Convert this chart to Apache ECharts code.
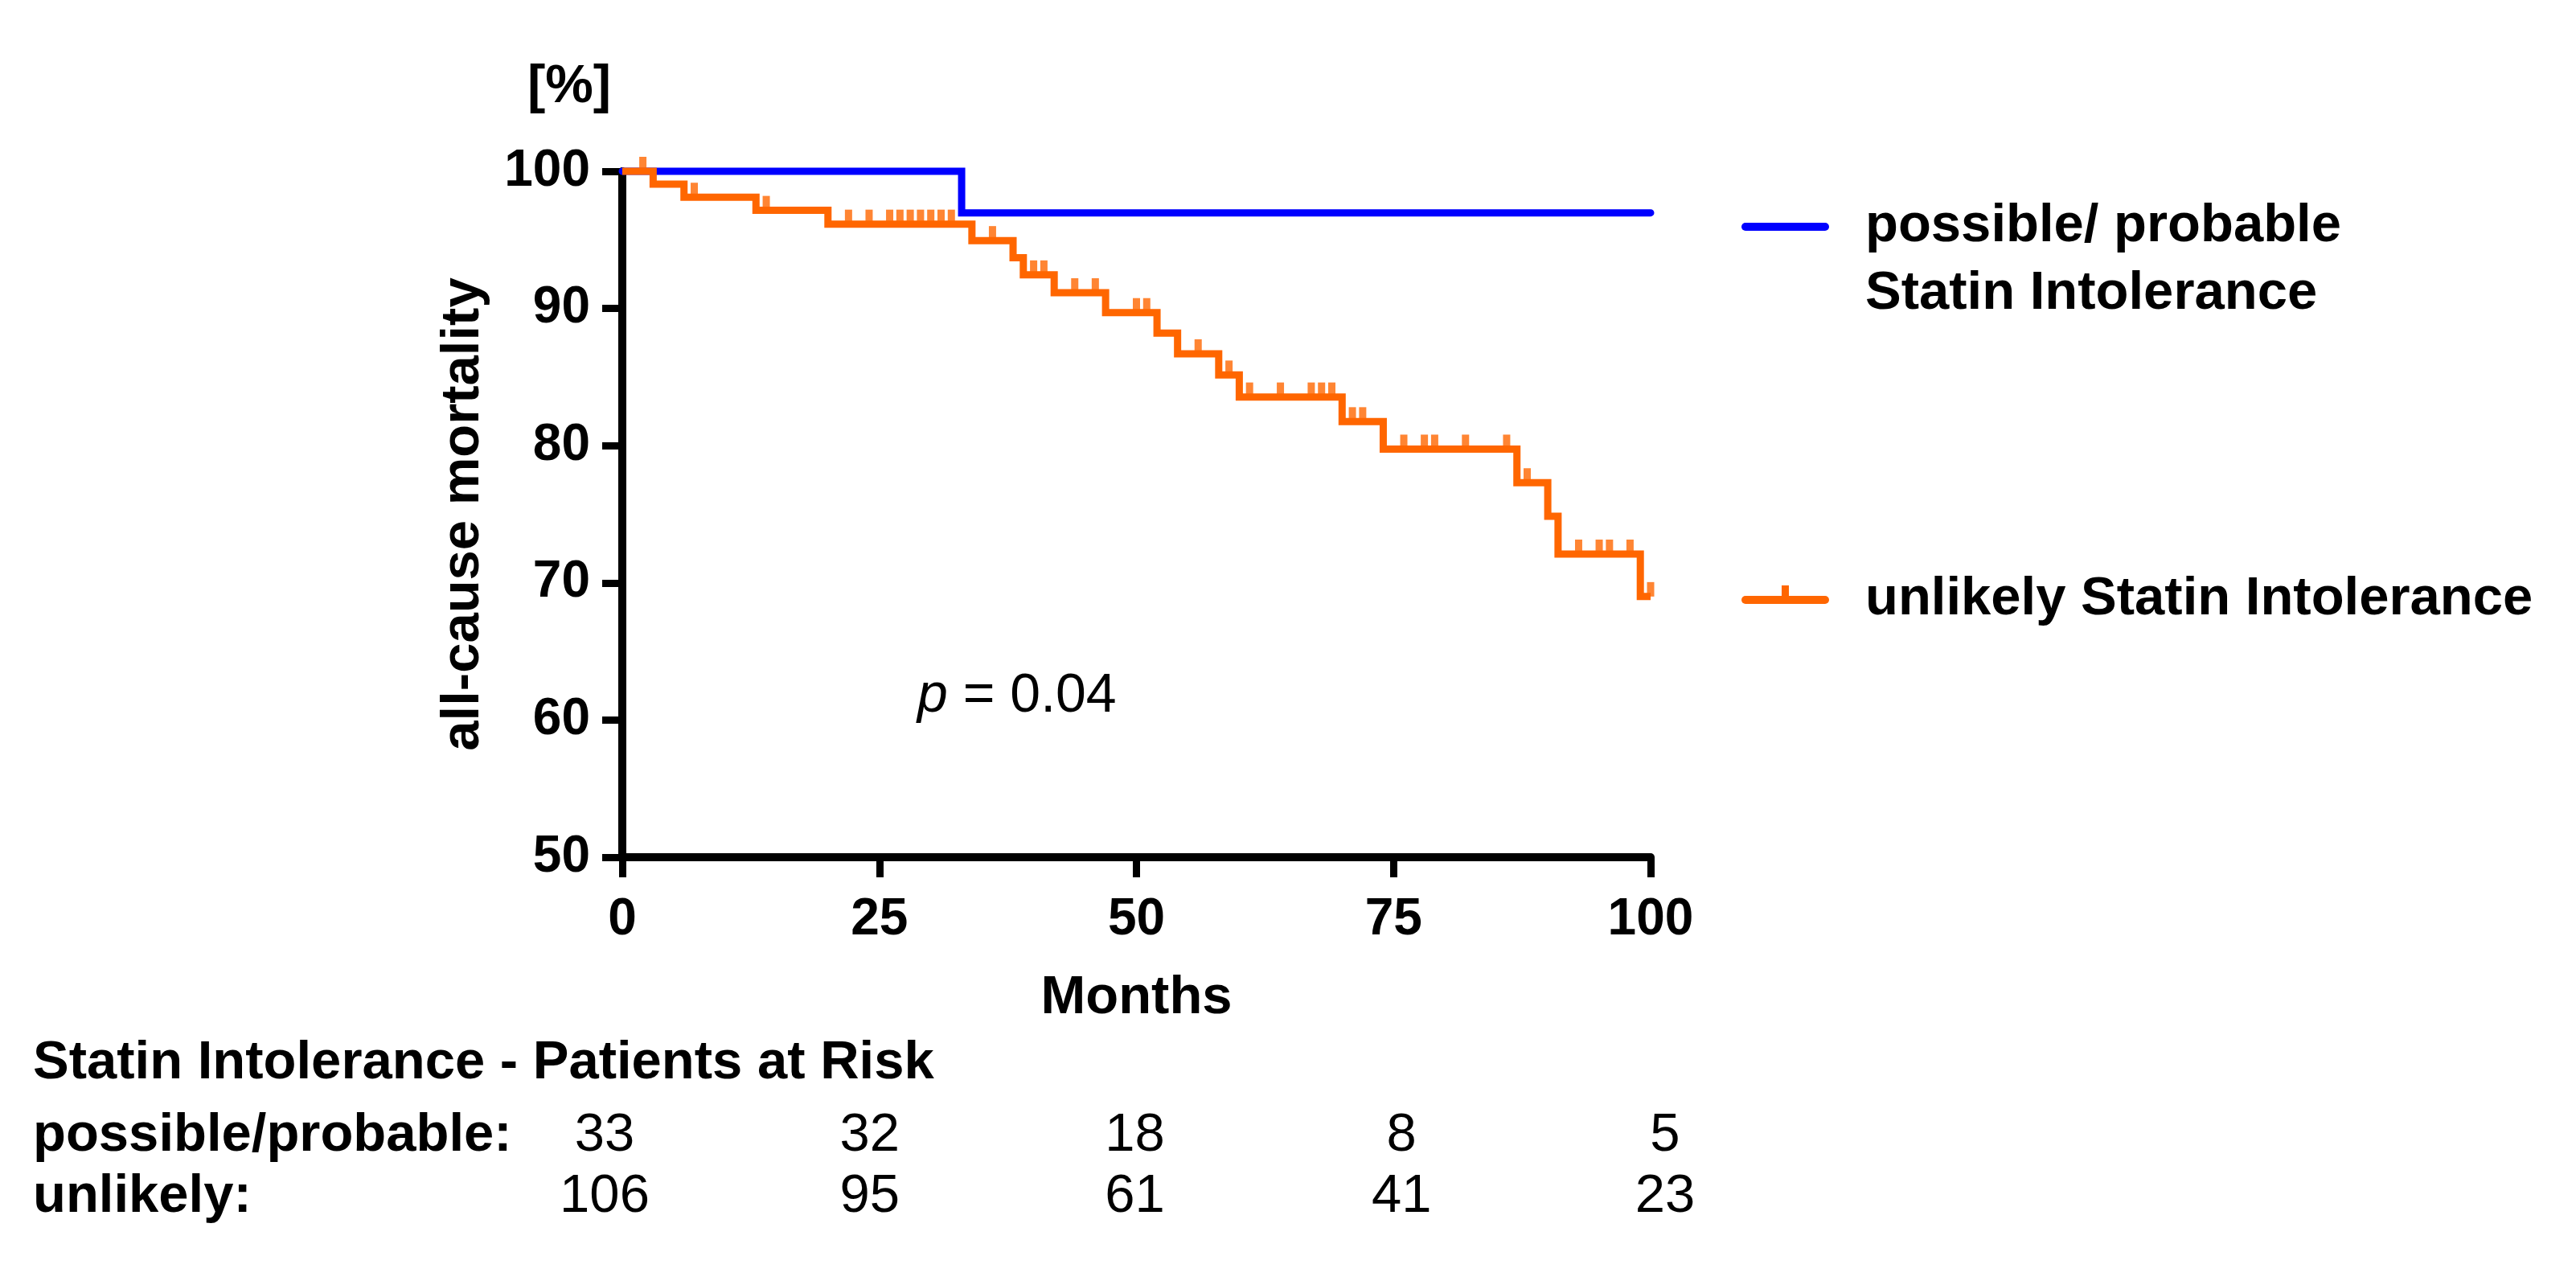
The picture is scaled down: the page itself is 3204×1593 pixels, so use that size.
<!DOCTYPE html>
<html><head><meta charset="utf-8">
<script src="https://cdn.jsdelivr.net/npm/echarts@6/dist/echarts.min.js"></script>
<style>html,body{margin:0;padding:0;background:#fff}#c{width:3204px;height:1593px}</style>
</head><body><div id="c"></div>
<script>
const FONT = '"Liberation Sans", Arial, sans-serif';
const BLUE = '#0000FF';
const ORANGE = '#FF6600';

// axis ticks
const xTicks = [0, 25, 50, 75, 100];
const yTicks = [50, 60, 70, 80, 90, 100];

// series names (legend)
const seriesNames = ['possible/ probable\nStatin Intolerance', 'unlikely Statin Intolerance'];

// possible/probable statin intolerance: step times (months) and survival (%)
const probTimes = [0, 33, 100];
const probSurv  = [100, 96.97, 96.97];

// unlikely statin intolerance: step times (months) and survival (%)
const unlTimes = [0, 3, 6, 13, 20, 34, 38, 39, 42, 47, 52, 54, 58, 60, 70, 74, 87, 90, 91, 99, 100];
const unlSurv  = [100, 99.06, 98.11, 97.15, 96.15, 94.95, 93.7, 92.45, 91.15, 89.7, 88.2, 86.7, 85.15, 83.55, 81.75, 79.75, 77.3, 74.85, 72.1, 69.0, 69.0];
// censored observations (months)
const unlCensor = [2, 7, 14, 22, 24, 26, 27, 28, 29, 30, 31, 32, 36, 40, 41, 44, 46, 50, 51, 56, 59, 61, 64, 67, 68, 69, 71, 72, 76, 78, 79, 82, 86, 88, 93, 95, 96, 98, 100];

// patients at risk table
const riskTitle = 'Statin Intolerance - Patients at Risk';
const riskRowLabels = ['possible/probable:', 'unlikely:'];
const riskProb = [33, 32, 18, 8, 5];
const riskUnl  = [106, 95, 61, 41, 23];

const pLabel = 'p';
const pValueText = ' = 0.04';
const yUnit = '[%]';
const yName = 'all-cause mortality';
const xName = 'Months';

function stepValue(times, surv, t) {
  let v = surv[0];
  for (let i = 0; i < times.length; i++) { if (times[i] <= t) v = surv[i]; }
  return v;
}

const chart = echarts.init(document.getElementById('c'));
const probData = probTimes.map((t, i) => [t, probSurv[i]]);
const unlData = unlTimes.map((t, i) => [t, unlSurv[i]]);
const censorData = unlCensor.map(t => [t, stepValue(unlTimes, unlSurv, t)]);

const axisStyle = { color: '#000', width: 10 };
const tickStyle = { color: '#000', width: 9 };
const labelStyle = { fontSize: 64, fontWeight: 'bold', color: '#000', fontFamily: FONT };

chart.setOption({
  backgroundColor: '#fff',
  animation: false,
  grid: { left: 774, top: 213, width: 1279, height: 853, containLabel: false },
  xAxis: {
    type: 'value', min: xTicks[0], max: xTicks[xTicks.length - 1], interval: 25,
    axisLine: { show: true, onZero: false, lineStyle: axisStyle },
    axisTick: { show: true, length: 25, lineStyle: tickStyle },
    axisLabel: Object.assign({ margin: 46 }, labelStyle),
    splitLine: { show: false },
    name: xName, nameLocation: 'middle', nameGap: 142,
    nameTextStyle: { fontSize: 67, fontWeight: 'bold', color: '#000', fontFamily: FONT }
  },
  yAxis: {
    type: 'value', min: yTicks[0], max: yTicks[yTicks.length - 1], interval: 10,
    axisLine: { show: true, onZero: false, lineStyle: axisStyle },
    axisTick: { show: true, length: 25, lineStyle: tickStyle },
    axisLabel: Object.assign({ margin: 40 }, labelStyle),
    splitLine: { show: false },
    name: yName, nameLocation: 'middle', nameGap: 164, nameRotate: 90,
    nameTextStyle: { fontSize: 67, fontWeight: 'bold', color: '#000', fontFamily: FONT }
  },
  series: [
    { name: seriesNames[0], type: 'line', step: 'end', data: probData, showSymbol: false, clip: false,
      lineStyle: { color: BLUE, width: 9, cap: 'round', join: 'miter' }, itemStyle: { color: BLUE }, z: 2 },
    { name: seriesNames[1], type: 'line', step: 'end', data: unlData, showSymbol: false, clip: false,
      lineStyle: { color: ORANGE, width: 9, cap: 'butt', join: 'miter' }, itemStyle: { color: ORANGE }, z: 3 },
    { name: seriesNames[1] + ' (censored)', type: 'scatter', data: censorData, clip: false,
      symbol: 'rect', symbolSize: [9, 18], symbolOffset: [0, -9],
      itemStyle: { color: ORANGE }, z: 4 }
  ]
});

function px(x, y) { return chart.convertToPixel({ gridIndex: 0 }, [x, y]); }

const g = [];
const textFont = (size, weight) => ({ fontSize: size, fontWeight: weight, fontFamily: FONT, fill: '#000' });

// unit label above y axis
g.push({ type: 'text', x: 708, y: 109, style: Object.assign({ text: yUnit, align: 'center', verticalAlign: 'middle' }, textFont(67, 'bold')) });

// legend
const legX0 = 2171, legX1 = 2270, legTextX = 2320;
const legY = [282, 746];
g.push({ type: 'line', shape: { x1: legX0, y1: legY[0], x2: legX1, y2: legY[0] }, style: { stroke: BLUE, lineWidth: 10, lineCap: 'round' } });
g.push({ type: 'line', shape: { x1: legX0, y1: legY[1], x2: legX1, y2: legY[1] }, style: { stroke: ORANGE, lineWidth: 10, lineCap: 'round' } });
g.push({ type: 'line', shape: { x1: (legX0 + legX1) / 2, y1: legY[1], x2: (legX0 + legX1) / 2, y2: legY[1] - 18 }, style: { stroke: ORANGE, lineWidth: 9 } });
const leg0Lines = seriesNames[0].split('\n');
leg0Lines.forEach((s, i) => g.push({ type: 'text', x: legTextX, y: legY[0] + i * 84, style: Object.assign({ text: s, align: 'left', verticalAlign: 'middle' }, textFont(67, 'bold')) }));
g.push({ type: 'text', x: legTextX, y: legY[1], style: Object.assign({ text: seriesNames[1], align: 'left', verticalAlign: 'middle' }, textFont(67, 'bold')) });

// p-value
g.push({ type: 'text', x: 1141, y: 866, style: {
  text: '{i|' + pLabel + '}{r|' + pValueText + '}', align: 'left', verticalAlign: 'middle',
  rich: { i: { fontSize: 68, fontStyle: 'italic', fontFamily: FONT, fill: '#000' }, r: { fontSize: 68, fontFamily: FONT, fill: '#000' } }
} });

// patients at risk table
g.push({ type: 'text', x: 41, y: 1323, style: Object.assign({ text: riskTitle, align: 'left', verticalAlign: 'middle' }, textFont(67, 'bold')) });
const rowY = [1413, 1489];
riskRowLabels.forEach((s, i) => g.push({ type: 'text', x: 41, y: rowY[i], style: Object.assign({ text: s, align: 'left', verticalAlign: 'middle' }, textFont(67, 'bold')) }));
const colShift = [-22, -12, -2, 10, 18];
[riskProb, riskUnl].forEach((row, r) => {
  row.forEach((v, c) => {
    const x = px(xTicks[c], yTicks[0])[0] + colShift[c];
    g.push({ type: 'text', x: x, y: rowY[r], style: Object.assign({ text: String(v), align: 'center', verticalAlign: 'middle' }, textFont(67, 'normal')) });
  });
});

chart.setOption({ graphic: g });
</script>
</body></html>
